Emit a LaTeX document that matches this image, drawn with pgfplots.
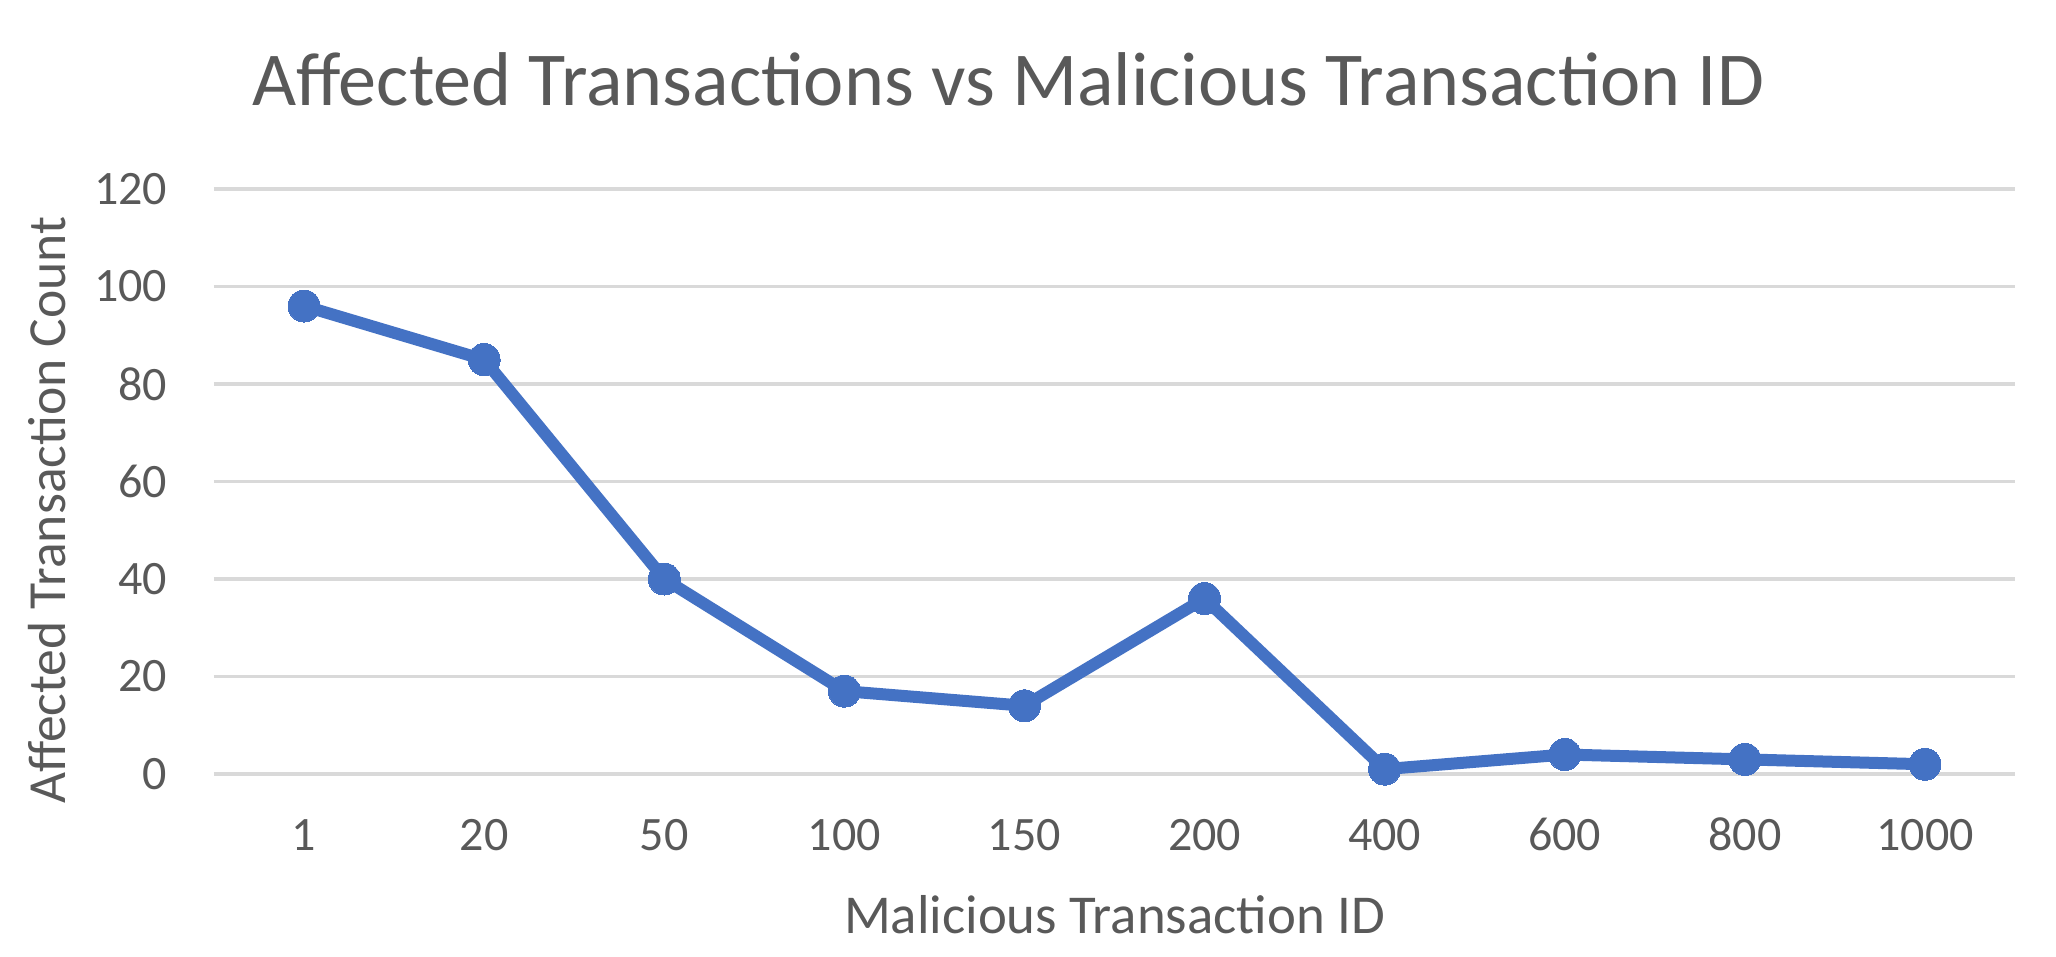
\documentclass[border=0pt]{standalone}
\usepackage{pgfplots}
\pgfplotsset{compat=1.18}
\usepackage{fontspec}
\setmainfont{Carlito}
\definecolor{linecol}{HTML}{4472C4}
\definecolor{txt}{HTML}{595959}
\definecolor{gridc}{HTML}{D9D9D9}
\begin{document}
\begin{tikzpicture}
\useasboundingbox (-53.5pt,-45.5pt) rectangle (460.5pt,193.5pt);
\begin{axis}[
  scale only axis,
  width=450.25pt, height=146.25pt,
  xmin=-0.5, xmax=9.5, ymin=0, ymax=120,
  xtick={0,...,9},
  xticklabels={1,20,50,100,150,200,400,600,800,1000},
  ytick={0,20,...,120},
  axis line style={draw=none},
  major tick length=0pt,
  ymajorgrids, grid style={gridc, line width=0.9pt},
  /pgf/number format/assume math mode=true,
  tick label style={font=\fontsize{12}{14}\selectfont, text=txt},
  xticklabel style={anchor=base, inner sep=0pt, yshift=-19pt},
  yticklabel style={anchor=east, inner sep=0pt, xshift=-11.5pt},
  title={Affected Transactions vs Malicious Transaction ID},
  title style={at={(axis description cs:0.441,1.1436)}, anchor=base, yshift=-6pt, inner sep=0pt, font=\fontsize{19.05}{22}\selectfont, text=txt},
  xlabel={Malicious Transaction ID},
  xlabel style={at={(axis description cs:0.5,-0.273)}, anchor=base, inner sep=0pt, font=\fontsize{13.7}{16}\selectfont, text=txt},
  ylabel={Affected Transaction Count},
  ylabel style={at={(axis description cs:-0.0927,0.451)}, anchor=center, inner sep=0pt, font=\fontsize{13.4}{16}\selectfont, text=txt},
  clip=false,
]
\addplot[color=linecol, line width=3pt, mark=*, mark size=4pt, mark options={fill=linecol, draw=linecol, line width=0pt}]
  coordinates {(0,96) (1,85) (2,40) (3,17) (4,14) (5,36) (6,1) (7,4) (8,3) (9,2)};
\end{axis}
\end{tikzpicture}
\end{document}
